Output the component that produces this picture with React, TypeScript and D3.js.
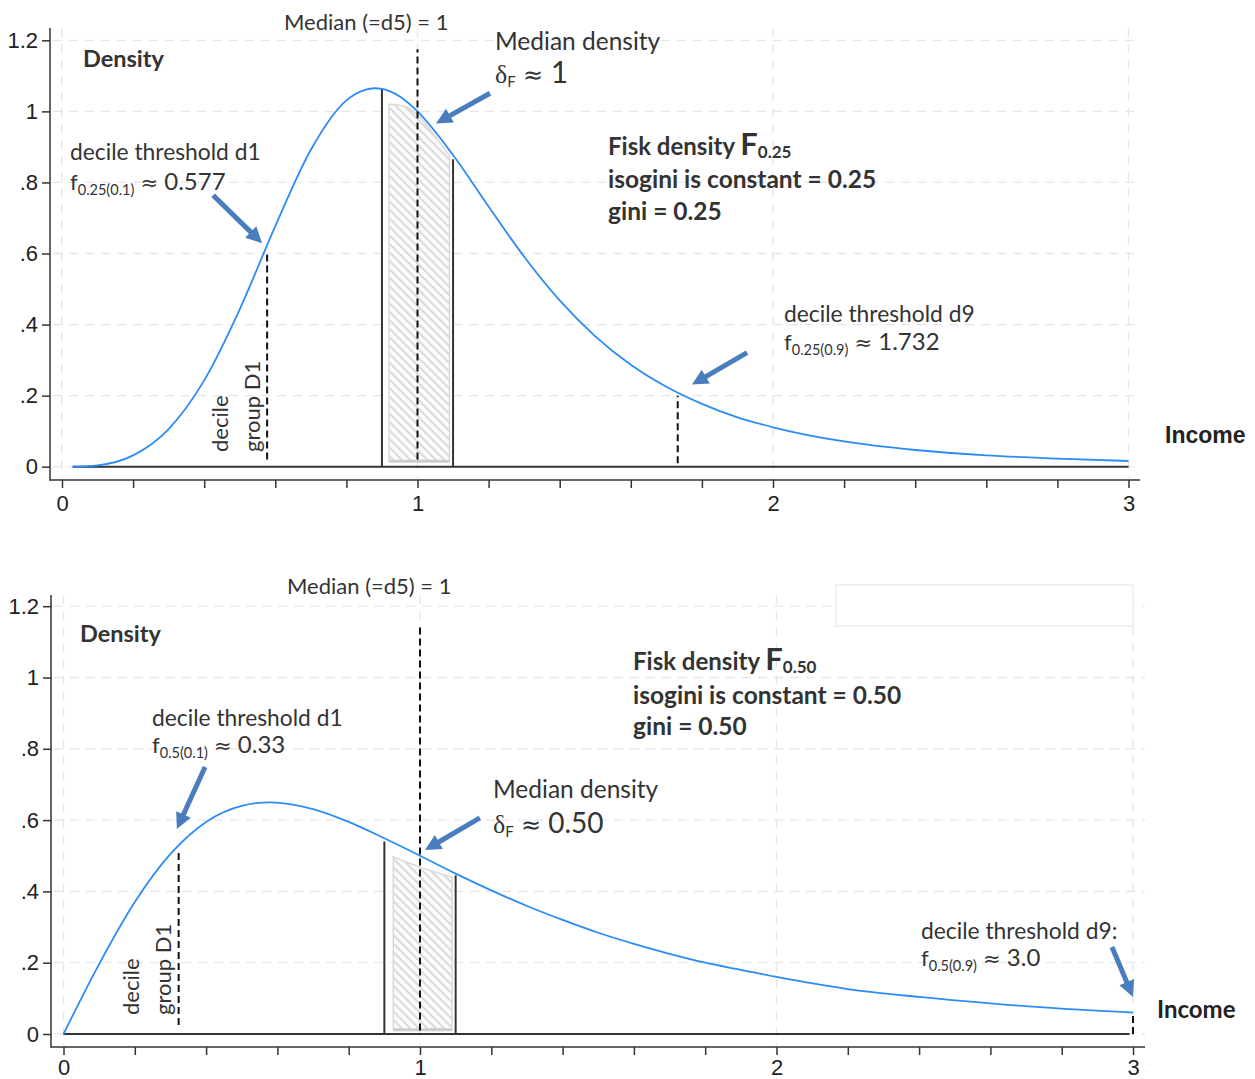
import React, { useRef, useEffect } from "react";
import * as d3 from "d3";

// ---- values ----
// top panel: Fisk density, gini = 0.25
const incomeTop = [0.03, 0.1, 0.2, 0.3, 0.4, 0.5, 0.6, 0.7, 0.8, 0.85, 0.88, 0.9, 0.95, 1.0, 1.1, 1.2, 1.3, 1.4, 1.5, 1.6, 1.7, 1.8, 1.9, 2.0, 2.2, 2.4, 2.6, 2.8, 3.0];
const densityTop = [0.0, 0.004, 0.032, 0.106, 0.243, 0.443, 0.677, 0.892, 1.031, 1.06, 1.065, 1.063, 1.042, 1.0, 0.877, 0.732, 0.591, 0.468, 0.367, 0.287, 0.225, 0.177, 0.139, 0.111, 0.071, 0.047, 0.032, 0.023, 0.016];

// bottom panel: Fisk density, gini = 0.50
const incomeBottom = [0, 0.1, 0.2, 0.3, 0.4, 0.5, 0.58, 0.7, 0.8, 0.9, 1.0, 1.1, 1.2, 1.3, 1.4, 1.5, 1.6, 1.7, 1.8, 1.9, 2.0, 2.2, 2.4, 2.6, 2.8, 3.0];
const densityBottom = [0, 0.196, 0.37, 0.505, 0.595, 0.64, 0.65, 0.631, 0.595, 0.549, 0.5, 0.45, 0.403, 0.359, 0.32, 0.284, 0.253, 0.225, 0.2, 0.18, 0.16, 0.126, 0.104, 0.086, 0.071, 0.06];

// median decile group (0.9 .. 1.1): solid edges and hatched block
const barEdges = [0.9, 1.1];
const barHeightTop = [1.063, 0.865];
const barHeightBottom = [0.54, 0.445];
const hatchXTop = [0.92, 0.96, 1.0, 1.05, 1.09];
const hatchHiTop = [1.02, 1.015, 0.99, 0.93, 0.875];
const hatchXBottom = [0.925, 1.0, 1.09];
const hatchHiBottom = [0.497, 0.468, 0.44];

// dashed markers: d1, median, d9
const dashXTop = [0.577, 1, 1.732];
const dashLoTop = [0.02, 0.02, 0.01];
const dashHiTop = [0.6, 1.175, 0.2];
const dashXBottom = [0.323, 1, 3.0];
const dashLoBottom = [0.025, 0.01, 0.0];
const dashHiBottom = [0.51, 1.147, 0.06];

// arrows [tailX, tailY, tipX, tipY] in data units
const arrowsTop = [
  [0.425, 0.764, 0.563, 0.629],
  [1.204, 1.051, 1.052, 0.966],
  [1.927, 0.321, 1.772, 0.231],
];
const arrowsBottom = [
  [0.397, 0.749, 0.318, 0.575],
  [1.168, 0.606, 1.014, 0.516],
  [2.941, 0.244, 3.0, 0.104],
];

const yTicks = [0, 0.2, 0.4, 0.6, 0.8, 1, 1.2];
const yTickLabels = ["0", ".2", ".4", ".6", ".8", "1", "1.2"];
const xTicks = [0, 0.2, 0.4, 0.6, 0.8, 1, 1.2, 1.4, 1.6, 1.8, 2, 2.2, 2.4, 2.6, 2.8, 3];
const xLabelled = [0, 1, 2, 3];

const SANS = "Lato, 'Open Sans', sans-serif";
const NARROW = "'Liberation Sans Narrow', 'Arial Narrow', 'Liberation Sans', sans-serif";
const SERIF = "'Liberation Serif', 'DejaVu Serif', serif";
const SYM = "'DejaVu Sans', sans-serif";
const TXT = "#333";
const BLUE = "#2b8cf7";
const ARROW = "#4a7dbd";

const width = 1255;
const height = 1079;

// text with tspans (sub/superscripts)
function rich(g, x, y, parts, color = TXT) {
  const t = g
    .append("text")
    .attr("x", x)
    .attr("y", y)
    .style("fill", color)
    .style("white-space", "pre");
  let shift = 0;
  parts.forEach((p) => {
    const ts = t
      .append("tspan")
      .text(p.t)
      .style("font-family", p.f || SANS)
      .style("font-size", p.s + "px")
      .style("font-weight", p.b ? "bold" : "normal");
    const target = p.dy || 0;
    if (target !== shift) {
      ts.attr("dy", target - shift);
      shift = target;
    }
  });
  return t;
}

function drawArrow(g, x1, y1, x2, y2) {
  const dx = x2 - x1;
  const dy = y2 - y1;
  const len = Math.sqrt(dx * dx + dy * dy);
  const ux = dx / len;
  const uy = dy / len;
  const head = 16;
  const half = 8;
  const bx = x2 - ux * head;
  const by = y2 - uy * head;
  g.append("line")
    .attr("x1", x1)
    .attr("y1", y1)
    .attr("x2", bx + ux * 2)
    .attr("y2", by + uy * 2)
    .style("stroke", ARROW)
    .style("stroke-width", 5);
  g.append("path")
    .attr(
      "d",
      `M${x2},${y2} L${bx - uy * half},${by + ux * half} L${bx + uy * half},${by - ux * half} Z`
    )
    .style("fill", ARROW);
}

function drawPanel(svg, cfg) {
  const g = svg.append("g");
  const x = d3.scaleLinear().domain([0, 3]).range(cfg.xRange);
  const y = d3.scaleLinear().domain([0, 1.2]).range(cfg.yRange);

  // grid
  g.selectAll(".hgrid")
    .data(yTicks)
    .enter()
    .append("line")
    .attr("x1", cfg.left + 3)
    .attr("x2", cfg.right)
    .attr("y1", (d) => y(d))
    .attr("y2", (d) => y(d))
    .style("stroke", "#e6e6e6")
    .style("stroke-width", 1.3)
    .style("stroke-dasharray", "9,7");
  g.selectAll(".vgrid")
    .data(xLabelled)
    .enter()
    .append("line")
    .attr("x1", (d) => x(d))
    .attr("x2", (d) => x(d))
    .attr("y1", cfg.top)
    .attr("y2", cfg.bottom - 2)
    .style("stroke", "#e6e6e6")
    .style("stroke-width", 1.3)
    .style("stroke-dasharray", "9,7");

  if (cfg.ghostBox) {
    const b = cfg.ghostBox;
    g.append("rect")
      .attr("x", b[0])
      .attr("y", b[1])
      .attr("width", b[2])
      .attr("height", b[3])
      .style("fill", "#fff")
      .style("stroke", "#eeeeee")
      .style("stroke-width", 1.5);
  }

  // hatched median group
  const hatch = d3
    .area()
    .x((d) => x(d[0]))
    .y0(y(cfg.hatchLo))
    .y1((d) => y(d[1]))
    .curve(d3.curveMonotoneX);
  g.append("path")
    .datum(cfg.hatchX.map((v, i) => [v, cfg.hatchHi[i]]))
    .attr("d", hatch)
    .style("fill", "url(#hatch)")
    .style("stroke", "#dadada")
    .style("stroke-width", 1.5);
  g.append("line")
    .attr("x1", x(cfg.hatchX[0]))
    .attr("x2", x(cfg.hatchX[cfg.hatchX.length - 1]))
    .attr("y1", y(cfg.hatchLo))
    .attr("y2", y(cfg.hatchLo))
    .style("stroke", "#cccccc")
    .style("stroke-width", 3);

  g.selectAll(".edge")
    .data(barEdges)
    .enter()
    .append("line")
    .attr("x1", (d) => x(d))
    .attr("x2", (d) => x(d))
    .attr("y1", y(0))
    .attr("y2", (d, i) => y(cfg.barHeight[i]))
    .style("stroke", "#333")
    .style("stroke-width", 2);

  // baseline at density 0
  g.append("line")
    .attr("x1", x(cfg.income[0]))
    .attr("x2", x(cfg.baseEnd))
    .attr("y1", y(0))
    .attr("y2", y(0))
    .style("stroke", "#333")
    .style("stroke-width", 2);

  // density curve
  const line = d3
    .line()
    .x((d, i) => x(cfg.income[i]))
    .y((d) => y(d))
    .curve(d3.curveMonotoneX);
  g.append("path")
    .datum(cfg.density)
    .attr("d", line)
    .style("fill", "none")
    .style("stroke", BLUE)
    .style("stroke-width", 1.8);

  // dashed thresholds
  g.selectAll(".dash")
    .data(cfg.dashX)
    .enter()
    .append("line")
    .attr("x1", (d) => x(d))
    .attr("x2", (d) => x(d))
    .attr("y1", (d, i) => y(cfg.dashLo[i]))
    .attr("y2", (d, i) => y(cfg.dashHi[i]))
    .style("stroke", "#111")
    .style("stroke-width", 2)
    .style("stroke-dasharray", "7,4");

  // axes
  const yAxis = d3
    .axisLeft(y)
    .tickValues(yTicks)
    .tickFormat((d, i) => yTickLabels[i])
    .tickSize(8)
    .tickPadding(4);
  const ya = g
    .append("g")
    .attr("transform", `translate(${cfg.left},0)`)
    .call(yAxis);
  ya.select(".domain").remove();
  ya.selectAll("line").style("stroke", "#333").style("stroke-width", 1.5);
  ya.selectAll("text")
    .style("font-family", NARROW)
    .style("font-size", "22px")
    .style("fill", "#222");

  const xAxis = d3
    .axisBottom(x)
    .tickValues(xTicks)
    .tickFormat((d) => (xLabelled.indexOf(d) >= 0 ? String(d) : ""))
    .tickSize(8)
    .tickPadding(cfg.xPad);
  const xa = g
    .append("g")
    .attr("transform", `translate(0,${cfg.bottom})`)
    .call(xAxis);
  xa.select(".domain").remove();
  xa.selectAll("line").style("stroke", "#333").style("stroke-width", 1.5);
  xa.selectAll("text")
    .style("font-family", NARROW)
    .style("font-size", "22px")
    .style("fill", "#222");

  g.append("line")
    .attr("x1", cfg.left)
    .attr("x2", cfg.left)
    .attr("y1", cfg.top)
    .attr("y2", cfg.bottom + 0.75)
    .style("stroke", "#333")
    .style("stroke-width", 1.5);
  g.append("line")
    .attr("x1", cfg.left)
    .attr("x2", cfg.right)
    .attr("y1", cfg.bottom)
    .attr("y2", cfg.bottom)
    .style("stroke", "#333")
    .style("stroke-width", 1.5);

  // arrows
  cfg.arrows.forEach((a) => drawArrow(g, x(a[0]), y(a[1]), x(a[2]), y(a[3])));

  // rotated decile group label
  [
    ["decile", cfg.rot[0]],
    ["group D1", cfg.rot[1]],
  ].forEach(([t, cx]) => {
    g.append("text")
      .attr("transform", `translate(${cx},${cfg.rot[2]}) rotate(-90)`)
      .text(t)
      .style("font-family", SANS)
      .style("font-size", "22px")
      .style("fill", TXT);
  });

  cfg.texts.forEach((t) => rich(g, t[0], t[1], t[2], t[3]));
}

const topPanel = {
  xRange: [62, 1128.5],
  yRange: [466.7, 40.3],
  left: 50,
  right: 1140,
  top: 28,
  bottom: 480,
  xPad: 7,
  income: incomeTop,
  density: densityTop,
  baseEnd: 3.0,
  barHeight: barHeightTop,
  hatchX: hatchXTop,
  hatchHi: hatchHiTop,
  hatchLo: 0.015,
  dashX: dashXTop,
  dashLo: dashLoTop,
  dashHi: dashHiTop,
  arrows: arrowsTop,
  rot: [228, 260, 452],
  texts: [
    [284, 30, [{ t: "Median (=d5) = 1", s: 22 }]],
    [83, 67, [{ t: "Density", s: 23.5, b: true }]],
    [495, 50, [{ t: "Median density", s: 24.5 }]],
    [495, 83, [{ t: "δ", s: 26, f: SERIF }, { t: "F", s: 15, dy: 4 }, { t: " ", s: 28 }, { t: "≈", s: 24, f: SYM }, { t: " 1", s: 30 }]],
    [70, 160, [{ t: "decile threshold d1", s: 22.8 }]],
    [70, 190, [{ t: "f", s: 22 }, { t: "0.25(0.1)", s: 14.5, dy: 5 }, { t: " ", s: 24 }, { t: "≈", s: 21, f: SYM }, { t: " 0.577", s: 24 }]],
    [608, 155, [{ t: "Fisk density ", s: 24, b: true }, { t: "F", s: 31, b: true }, { t: "0.25", s: 17, b: true, dy: 3 }]],
    [608, 188, [{ t: "isogini is constant = 0.25", s: 24.5, b: true }]],
    [608, 220, [{ t: "gini = 0.25", s: 24.5, b: true }]],
    [784, 322, [{ t: "decile threshold d9", s: 22.8 }]],
    [784, 350, [{ t: "f", s: 22 }, { t: "0.25(0.9)", s: 14.5, dy: 5 }, { t: " ", s: 24 }, { t: "≈", s: 21, f: SYM }, { t: " 1.732", s: 24 }]],
    [1165, 443, [{ t: "Income", s: 23, b: true, f: NARROW }], "#222"],
  ],
};

const bottomPanel = {
  xRange: [63.5, 1133],
  yRange: [1034, 606.2],
  left: 51,
  right: 1145,
  top: 595,
  bottom: 1047,
  xPad: 4,
  income: incomeBottom,
  density: densityBottom,
  baseEnd: 2.99,
  barHeight: barHeightBottom,
  hatchX: hatchXBottom,
  hatchHi: hatchHiBottom,
  hatchLo: 0.012,
  dashX: dashXBottom,
  dashLo: dashLoBottom,
  dashHi: dashHiBottom,
  arrows: arrowsBottom,
  rot: [139, 171, 1015],
  ghostBox: [836, 585, 297, 41],
  texts: [
    [287, 594, [{ t: "Median (=d5) = 1", s: 22 }]],
    [80, 642, [{ t: "Density", s: 23.5, b: true }]],
    [633, 670, [{ t: "Fisk density ", s: 24, b: true }, { t: "F", s: 31, b: true }, { t: "0.50", s: 17, b: true, dy: 3 }]],
    [633, 704, [{ t: "isogini is constant = 0.50", s: 24.5, b: true }]],
    [633, 735, [{ t: "gini = 0.50", s: 24.5, b: true }]],
    [152, 726, [{ t: "decile threshold d1", s: 22.8 }]],
    [152, 753, [{ t: "f", s: 22 }, { t: "0.5(0.1)", s: 14.5, dy: 5 }, { t: " ", s: 24 }, { t: "≈", s: 21, f: SYM }, { t: " 0.33", s: 24 }]],
    [493, 798, [{ t: "Median density", s: 24.5 }]],
    [493, 833, [{ t: "δ", s: 26, f: SERIF }, { t: "F", s: 15, dy: 4 }, { t: " ", s: 28 }, { t: "≈", s: 24, f: SYM }, { t: " 0.50", s: 28 }]],
    [921, 939, [{ t: "decile threshold d9:", s: 22.8 }]],
    [921, 966, [{ t: "f", s: 22 }, { t: "0.5(0.9)", s: 14.5, dy: 5 }, { t: " ", s: 24 }, { t: "≈", s: 21, f: SYM }, { t: " 3.0", s: 24 }]],
    [1157, 1018, [{ t: "Income", s: 24, b: true }], "#222"],
  ],
};

const App = () => {
  const container = useRef(null);

  useEffect(() => {
    const svg = d3.select(container.current);
    svg.selectAll("*").remove();

    const defs = svg.append("defs");
    const pat = defs
      .append("pattern")
      .attr("id", "hatch")
      .attr("patternUnits", "userSpaceOnUse")
      .attr("width", 6)
      .attr("height", 6)
      .attr("patternTransform", "rotate(-45)");
    pat.append("rect").attr("width", 6).attr("height", 6).style("fill", "#fbfbfb");
    pat
      .append("line")
      .attr("x1", 1)
      .attr("x2", 1)
      .attr("y1", 0)
      .attr("y2", 6)
      .style("stroke", "#c0c0c0")
      .style("stroke-width", 1.1);

    svg.append("rect").attr("width", width).attr("height", height).style("fill", "#fff");

    drawPanel(svg, topPanel);
    drawPanel(svg, bottomPanel);
  }, []);

  return (
    <div style={{ position: "absolute", left: 0, top: 0, width: width, height: height }}>
      <svg ref={container} width={width} height={height} style={{ display: "block" }} />
    </div>
  );
};

export default App;
